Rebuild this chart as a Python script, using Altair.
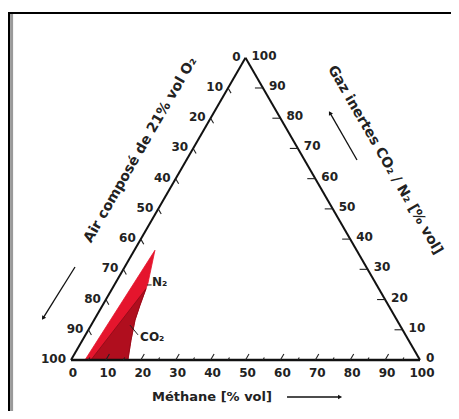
import altair as alt
import pandas as pd
import numpy as np

SQ = np.sqrt(3) / 2

# ---- data -------------------------------------------------------------
tick_values = list(range(0, 101, 10))
major_ticks = list(range(10, 100, 10))
minor_ticks = list(range(5, 100, 10))

# explosive regions, ternary coordinates (methane %, inert gas %)
n2_methane = [4.0, 5.9, 9.35, 10.7, 11.75, 13.9, 16.3]
n2_inert = [0.0, 36.3, 25.4, 18.15, 13.2, 6.6, 0.0]
co2_methane = [5.7, 9.7, 10.7, 11.75, 13.9, 16.3]
co2_inert = [0.0, 23.6, 18.15, 13.2, 6.6, 0.0]

left_title = "Air composé de 21% vol O₂"
right_title = "Gaz inertes CO₂ / N₂ [% vol]"
bottom_title = "Méthane [% vol]"

# annotation anchors in cartesian triangle units (base = 0..100)
title_u = [19.9, 90.0, 40.4]
title_v = [60.2, 57.3, -10.6]
arrow_u = [1.15, 81.95, 61.9]
arrow_v = [26.65, 57.3, -10.6]
arrow_u2 = [-8.0, 74.2, 77.1]
arrow_v2 = [12.0, 70.8, -10.6]
arrow_ang = [212, 330, 90]


def tern(m, g):
    return m + g / 2.0, g * SQ


XS = alt.Scale(domain=[-18.052, 108.883], nice=False, zero=False)
YS = alt.Scale(domain=[-14.613, 100.86], nice=False, zero=False)
FONT = "DejaVu Sans"


def X(f="u"):
    return alt.X(f"{f}:Q", scale=XS, axis=None)


def Y(f="v"):
    return alt.Y(f"{f}:Q", scale=YS, axis=None)


def poly_df(ms, gs):
    rows = []
    for i, (m, g) in enumerate(zip(ms, gs)):
        u, v = tern(m, g)
        rows.append({"u": u, "v": v, "i": i})
    u, v = tern(ms[0], gs[0])
    rows.append({"u": u, "v": v, "i": len(ms)})
    return pd.DataFrame(rows)


def seg(p, q):
    (u, v), (u2, v2) = p, q
    return {"u": u, "v": v, "u2": u2, "v2": v2}


# triangle edges
edges = pd.DataFrame([
    seg(tern(0, 0), tern(100, 0)),
    seg(tern(0, 0), tern(0, 100)),
    seg(tern(100, 0), tern(0, 100)),
])
edges["w"] = [2.6, 2.0, 2.0]

# ticks
tick_rows = []
for m in major_ticks:
    tick_rows.append(seg(tern(m, 0), tern(m, 2.0)))
for m in minor_ticks:
    tick_rows.append(seg(tern(m, 0), tern(m, 0.8)))
for a in major_ticks:
    g = 100 - a
    tick_rows.append(seg(tern(0, g), tern(1.7, g - 1.7)))
for g in major_ticks:
    tick_rows.append(seg(tern(100 - g, g), tern(100 - g - 2.3, g)))
ticks_df = pd.DataFrame(tick_rows)

bottom_lab = pd.DataFrame([dict(zip(["u", "v"], tern(t, 0)), t=str(t)) for t in tick_values])
left_lab = pd.DataFrame([dict(zip(["u", "v"], tern(0, 100 - t)), t=str(t)) for t in tick_values])
right_lab = pd.DataFrame([dict(zip(["u", "v"], tern(100 - t, t)), t=str(t)) for t in tick_values])

arrows = pd.DataFrame({"u": arrow_u, "v": arrow_v, "u2": arrow_u2, "v2": arrow_v2, "ang": arrow_ang})

# ---- layers -----------------------------------------------------------
n2_poly = alt.Chart(poly_df(n2_methane, n2_inert)).mark_line(
    fill="#E5152D", stroke="#E5152D", strokeWidth=0.8, interpolate="linear"
).encode(x=X(), y=Y(), order="i:Q")

co2_poly = alt.Chart(poly_df(co2_methane, co2_inert)).mark_line(
    fill="#B00E1E", stroke="#8a0a16", strokeWidth=0.8, interpolate="linear"
).encode(x=X(), y=Y(), order="i:Q")

edge_layer = alt.Chart(edges).mark_rule(color="#111111").encode(
    x=X(), y=Y(), x2="u2:Q", y2="v2:Q", strokeWidth=alt.StrokeWidth("w:Q", scale=None)
)

tick_layer = alt.Chart(ticks_df).mark_rule(color="#222222", strokeWidth=1.1).encode(
    x=X(), y=Y(), x2="u2:Q", y2="v2:Q"
)

lab_style = dict(font=FONT, fontWeight="bold", fontSize=12, color="#222222", baseline="middle")
bottom_text = alt.Chart(bottom_lab).mark_text(align="center", dx=2, dy=13, **lab_style).encode(
    x=X(), y=Y(), text="t:N")
left_text = alt.Chart(left_lab).mark_text(align="right", dx=-5, dy=-1, **lab_style).encode(
    x=X(), y=Y(), text="t:N")
right_text = alt.Chart(right_lab).mark_text(align="left", dx=6, dy=-2, **lab_style).encode(
    x=X(), y=Y(), text="t:N")

titles = pd.DataFrame({"u": title_u, "v": title_v,
                       "t": [left_title, right_title, bottom_title]})
title_style = dict(font=FONT, fontWeight="bold", color="#222222", baseline="middle", align="center")
t_left = alt.Chart(titles.iloc[[0]]).mark_text(angle=300, fontSize=14, **title_style).encode(
    x=X(), y=Y(), text="t:N")
t_right = alt.Chart(titles.iloc[[1]]).mark_text(angle=60, fontSize=14, **title_style).encode(
    x=X(), y=Y(), text="t:N")
t_bottom = alt.Chart(titles.iloc[[2]]).mark_text(fontSize=13, **title_style).encode(
    x=X(), y=Y(), text="t:N")

# gas labels with leader lines
gas = pd.DataFrame({"u": [23.2, 19.8], "v": [22.35, 6.6], "t": ["N₂", "CO₂"]})
gas_lines = pd.DataFrame({"u": [21.8, 16.9], "v": [21.5, 10.0], "u2": [23.1, 19.2], "v2": [21.5, 7.2]})
gas_text = alt.Chart(gas).mark_text(align="left", **lab_style).encode(x=X(), y=Y(), text="t:N")
gas_rule = alt.Chart(gas_lines).mark_rule(color="#222222", strokeWidth=1).encode(
    x=X(), y=Y(), x2="u2:Q", y2="v2:Q")

arrow_line = alt.Chart(arrows).mark_rule(color="#111111", strokeWidth=1.3).encode(
    x=X(), y=Y(), x2="u2:Q", y2="v2:Q")
arrow_head = alt.Chart(arrows).mark_point(
    shape="triangle-up", filled=True, size=22, color="#111111", opacity=1
).encode(x=X("u2"), y=Y("v2"), angle=alt.Angle("ang:Q", scale=None))

# frame (decorative)
frame_top = alt.Chart(pd.DataFrame({"k": [0]})).mark_rule(color="#000000", strokeWidth=2).encode(
    x=alt.value(0), x2=alt.value(443), y=alt.value(5))
frame_left = alt.Chart(pd.DataFrame({"k": [0]})).mark_rule(color="#000000", strokeWidth=2).encode(
    x=alt.value(1), y=alt.value(4), y2=alt.value(403))
frame_gray = alt.Chart(pd.DataFrame({"k": [0]})).mark_rule(color="#9a9a9a", strokeWidth=3).encode(
    x=alt.value(3.6), y=alt.value(6), y2=alt.value(403))

chart = alt.layer(
    frame_top, frame_left, frame_gray,
    n2_poly, co2_poly, edge_layer, tick_layer,
    bottom_text, left_text, right_text,
    t_left, t_right, t_bottom,
    gas_rule, gas_text, arrow_line, arrow_head,
).properties(
    width=443, height=403, padding=0,
    autosize=alt.AutoSizeParams(type="none"),
    background="white",
).configure_view(stroke=None)

chart.save("out.html", embed_options={"renderer": "svg", "actions": False})
